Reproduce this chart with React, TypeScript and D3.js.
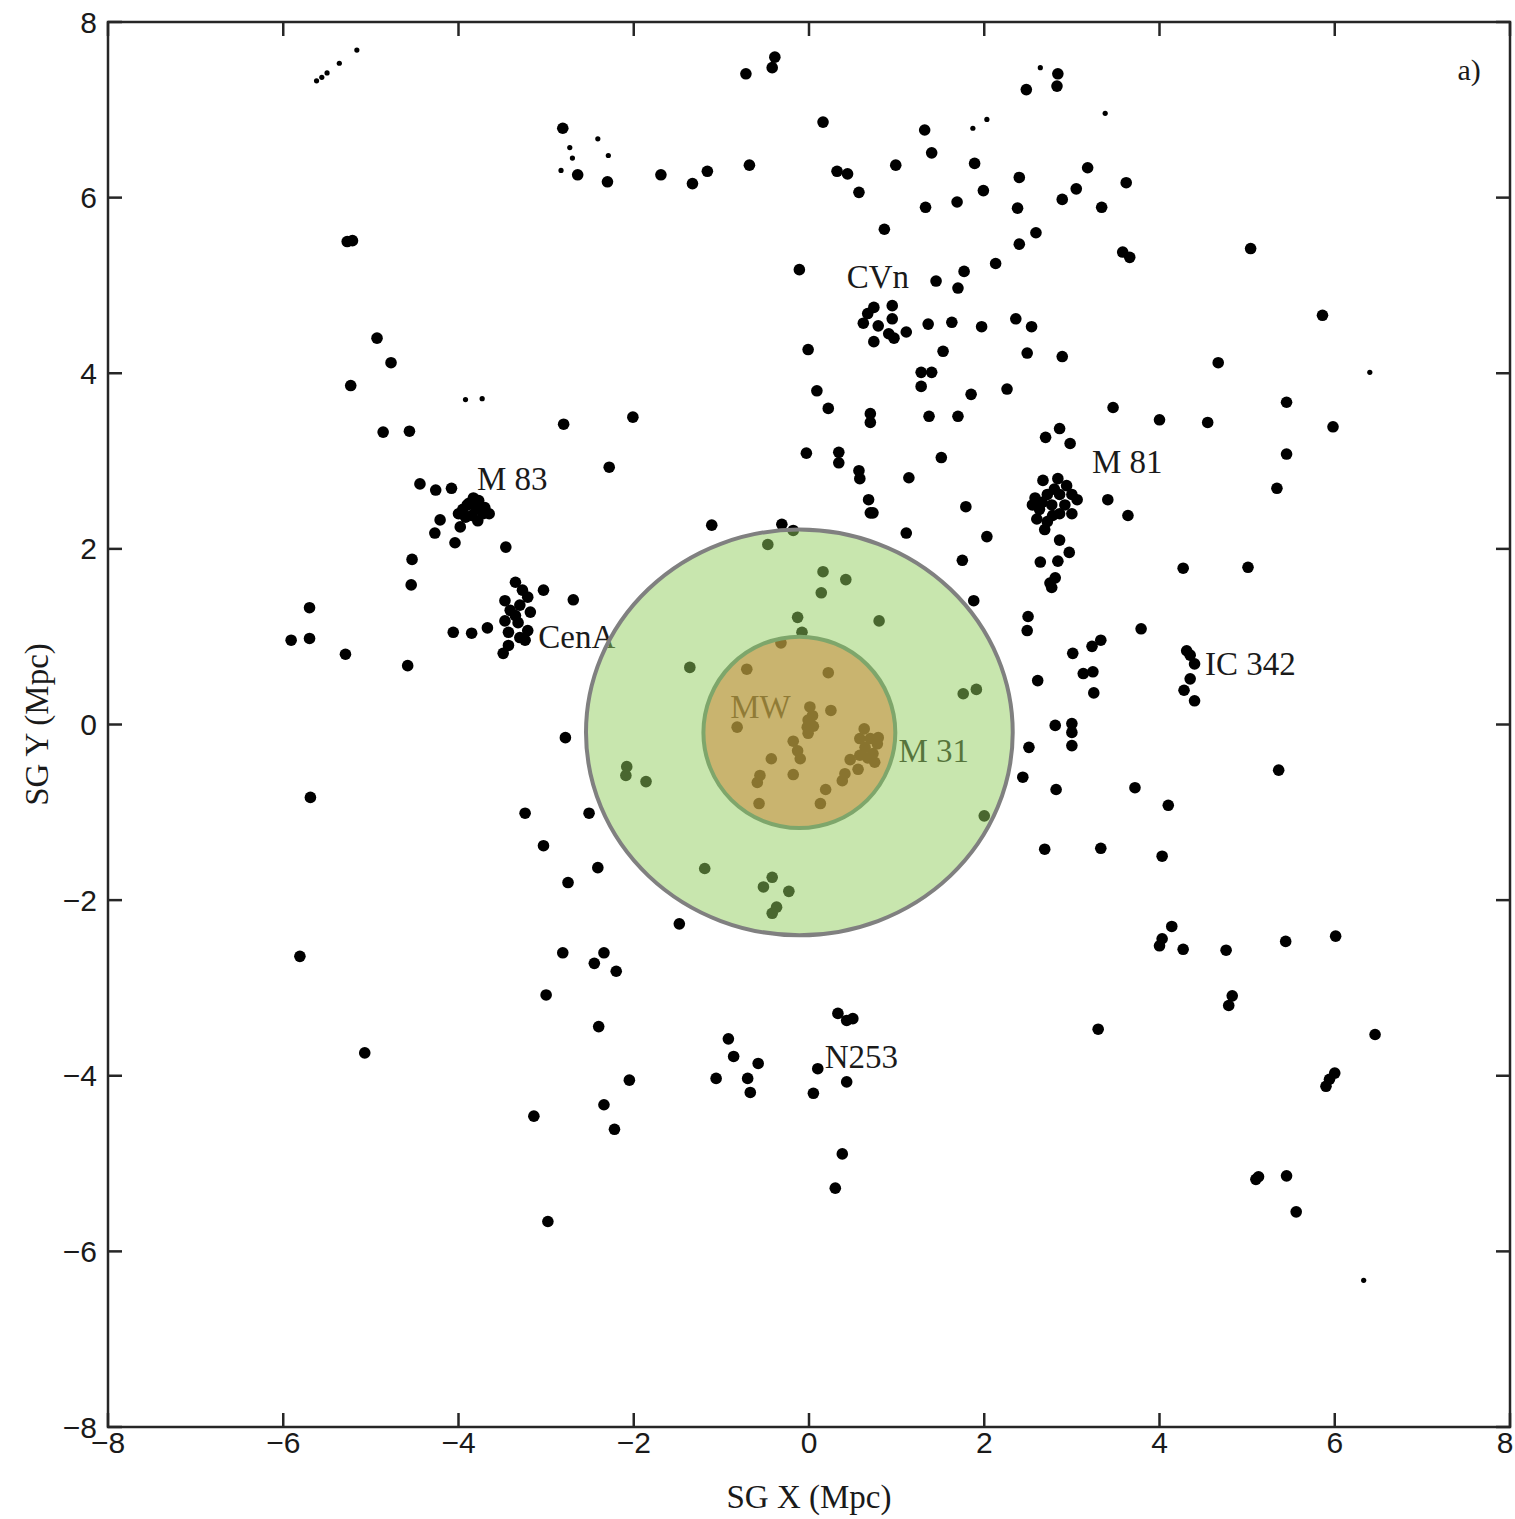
import React from "react";
import * as d3 from "d3";

// Supergalactic X/Y positions (Mpc) of nearby galaxies, large markers
const galaxies: [number, number][] = [
  // far upper-left
  [-5.27, 5.5], [-5.21, 5.51], [-4.93, 4.4], [-4.77, 4.12], [-5.23, 3.86], [-4.86, 3.33], [-4.56, 3.34],
  [-4.44, 2.74], [-4.26, 2.67], [-4.08, 2.69],
  // upper middle
  [-0.39, 7.6], [-0.42, 7.48], [-0.72, 7.41], [-2.81, 6.79], [-2.64, 6.26], [-2.3, 6.18], [-1.69, 6.26],
  [-1.33, 6.16], [-1.16, 6.3], [-0.68, 6.37], [-0.11, 5.18], [-0.01, 4.27], [0.09, 3.8], [-2.8, 3.42],
  [-2.01, 3.5], [-0.03, 3.09], [-2.28, 2.93],
  // upper right of centre
  [2.84, 7.41], [2.83, 7.27], [2.48, 7.23], [0.16, 6.86], [1.32, 6.77], [1.4, 6.51], [0.99, 6.37],
  [1.89, 6.39], [0.32, 6.3], [0.44, 6.27], [0.57, 6.06], [2.4, 6.23], [3.18, 6.34], [3.62, 6.17],
  [1.33, 5.89], [1.69, 5.95], [1.99, 6.08], [2.38, 5.88], [2.89, 5.98], [3.05, 6.1], [3.34, 5.89],
  [0.86, 5.64], [2.59, 5.6], [2.4, 5.47], [2.13, 5.25], [3.58, 5.38], [3.66, 5.32], [1.45, 5.05],
  [1.77, 5.16], [1.7, 4.97],
  // CVn group
  [0.74, 4.75], [0.95, 4.77], [0.95, 4.62], [0.67, 4.68], [0.62, 4.57], [0.79, 4.54], [0.91, 4.45],
  [0.97, 4.4], [1.11, 4.47], [0.74, 4.36],
  [1.36, 4.56], [1.63, 4.58], [1.97, 4.53], [2.36, 4.62], [2.54, 4.53], [1.53, 4.25], [2.49, 4.23],
  [2.89, 4.19], [1.28, 4.01], [1.4, 4.01], [1.28, 3.85], [1.85, 3.76], [2.26, 3.82], [0.22, 3.6],
  [0.7, 3.54], [0.7, 3.44], [1.37, 3.51], [1.7, 3.51], [3.47, 3.61], [4.0, 3.47], [0.34, 3.1],
  [0.34, 2.98], [0.57, 2.89], [0.58, 2.8], [1.14, 2.81], [1.51, 3.04], [2.7, 3.27], [2.86, 3.37],
  [2.98, 3.2],
  // far upper-right
  [5.04, 5.42], [5.86, 4.66], [4.67, 4.12], [5.45, 3.67], [4.55, 3.44], [5.98, 3.39], [5.45, 3.08],
  [5.34, 2.69],
  // left side
  [-4.21, 2.33], [-4.27, 2.18], [-4.04, 2.07], [-4.53, 1.88], [-4.54, 1.59], [-5.7, 1.33], [-5.91, 0.96],
  [-5.7, 0.98], [-5.29, 0.8], [-4.58, 0.67], [-4.06, 1.05], [-5.69, -0.83], [-5.81, -2.64],
  // M 83 group
  [-3.83, 2.58], [-3.77, 2.55], [-3.9, 2.5], [-3.95, 2.45], [-3.8, 2.45], [-3.72, 2.4], [-3.85, 2.38],
  [-3.92, 2.36], [-3.65, 2.4], [-3.78, 2.32], [-3.98, 2.25], [-4.0, 2.4], [-3.88, 2.52], [-3.7, 2.47],
  [-1.11, 2.27], [-0.31, 2.28], [-0.18, 2.21], [-3.46, 2.02],
  // Cen A group
  [-3.35, 1.62], [-3.27, 1.53], [-3.21, 1.45], [-3.47, 1.41], [-3.3, 1.36], [-3.41, 1.3], [-3.18, 1.28],
  [-3.47, 1.18], [-3.32, 1.16], [-3.21, 1.07], [-3.43, 1.05], [-3.3, 0.99], [-3.43, 0.9], [-3.49, 0.81],
  [-3.24, 0.96], [-3.35, 1.24],
  [-3.03, 1.53], [-2.69, 1.42], [-3.85, 1.04], [-3.67, 1.1],
  // Local Group outskirts
  [-0.47, 2.05], [-0.13, 1.22], [-0.08, 1.05], [-0.32, 0.93], [-1.36, 0.65], [-2.08, -0.48],
  [-2.09, -0.58], [-1.86, -0.65], [-1.19, -1.64], [-0.42, -1.74], [-0.52, -1.85], [-0.23, -1.9],
  [-0.37, -2.08], [-0.42, -2.15],
  [0.16, 1.74], [0.42, 1.65], [0.14, 1.5], [0.8, 1.18], [1.76, 0.35], [1.91, 0.4], [2.0, -1.04],
  // Milky Way and M 31 companions
  [-0.71, 0.63], [-0.82, -0.03], [0.01, 0.2], [-0.01, 0.05], [-0.02, -0.03], [-0.01, -0.1],
  [-0.18, -0.19], [-0.13, -0.3], [-0.1, -0.39], [-0.43, -0.39], [-0.56, -0.58], [-0.59, -0.66],
  [-0.18, -0.57], [-0.57, -0.9],
  [0.22, 0.59], [0.25, 0.16], [0.04, 0.1], [0.05, -0.02],
  [0.63, -0.05], [0.58, -0.16], [0.7, -0.16], [0.78, -0.22], [0.64, -0.26], [0.73, -0.33], [0.58, -0.35],
  [0.75, -0.43], [0.67, -0.38], [0.79, -0.15], [0.47, -0.4], [0.56, -0.51], [0.41, -0.56], [0.38, -0.64],
  [0.19, -0.74], [0.13, -0.9],
  // lower left of centre
  [-2.78, -0.15], [-3.24, -1.01], [-2.51, -1.01], [-3.03, -1.38], [-2.41, -1.63], [-2.75, -1.8],
  [-1.48, -2.27], [-2.81, -2.6], [-2.34, -2.6],
  // right of centre
  [0.68, 2.56], [0.7, 2.41], [0.73, 2.41], [1.79, 2.48], [1.11, 2.18], [2.03, 2.14], [1.75, 1.87],
  [1.88, 1.41],
  // M 81 group
  [2.67, 2.78], [2.84, 2.8], [2.94, 2.72], [2.58, 2.58], [2.72, 2.62], [2.86, 2.62], [3.0, 2.62],
  [2.63, 2.45], [2.77, 2.5], [2.92, 2.5], [3.06, 2.56], [2.6, 2.34], [2.72, 2.31], [2.69, 2.22],
  [2.86, 2.4], [2.8, 2.68], [2.55, 2.5], [3.0, 2.4], [2.66, 2.53], [2.78, 2.38],
  [3.41, 2.56], [3.64, 2.38],
  [2.86, 2.1], [2.97, 1.96], [2.64, 1.85], [2.84, 1.86], [2.75, 1.61], [2.81, 1.67], [2.77, 1.56],
  [2.5, 1.23], [2.49, 1.07], [3.79, 1.09], [3.01, 0.81], [3.23, 0.89], [3.33, 0.96], [3.13, 0.58],
  [3.24, 0.6], [3.25, 0.36], [2.61, 0.5], [2.81, -0.01], [3.0, 0.01], [3.0, -0.09], [3.0, -0.24],
  [2.51, -0.26], [2.44, -0.6], [2.82, -0.74], [3.72, -0.72], [2.69, -1.42], [3.33, -1.41],
  // IC 342 group and right side
  [4.27, 1.78], [5.01, 1.79],
  [4.31, 0.84], [4.35, 0.79], [4.4, 0.69], [4.35, 0.52], [4.28, 0.39], [4.4, 0.27],
  [5.36, -0.52], [4.1, -0.92], [4.03, -1.5], [4.14, -2.3], [4.03, -2.44], [4.0, -2.52], [4.27, -2.56],
  [4.76, -2.57], [5.44, -2.47], [6.01, -2.41],
  // lower half
  [-5.07, -3.74],
  [-2.45, -2.72], [-2.2, -2.81], [-3.0, -3.08], [-2.4, -3.44], [-2.05, -4.05], [-3.14, -4.46],
  [-2.34, -4.33], [-2.22, -4.61], [-2.98, -5.66], [-0.92, -3.58], [-0.86, -3.78], [-0.58, -3.86],
  [-1.06, -4.03], [-0.7, -4.03], [-0.67, -4.19],
  // Sculptor (N253) group
  [0.33, -3.29], [0.43, -3.37], [0.5, -3.35], [0.1, -3.92], [0.43, -4.07], [0.05, -4.2], [0.38, -4.89],
  [0.3, -5.28], [3.3, -3.47],
  [4.83, -3.09], [4.79, -3.2], [6.46, -3.53], [6.0, -3.97], [5.94, -4.04], [5.9, -4.12], [5.13, -5.15],
  [5.1, -5.18], [5.45, -5.14], [5.56, -5.55],
];

// Faint galaxies, small markers
const faintGalaxies: [number, number][] = [
  [-5.62, 7.33], [-5.56, 7.37], [-5.5, 7.42], [-5.36, 7.53], [-5.16, 7.68],
  [-2.41, 6.67], [-2.73, 6.57], [-2.7, 6.45], [-2.29, 6.48], [-2.83, 6.31],
  [-3.92, 3.7], [-3.73, 3.71],
  [2.64, 7.48], [1.87, 6.79], [2.03, 6.89], [3.38, 6.96], [6.4, 4.01], [6.33, -6.33],
];

// Group names and where they are written (data coordinates of the text baseline start)
const groupNames = ["M 83", "CenA", "CVn", "M 81", "IC 342", "MW", "M 31", "N253"];
const groupNameX = [-3.79, -3.09, 0.43, 3.23, 4.52, -0.9, 1.02, 0.18];
const groupNameY = [2.67, 0.87, 4.97, 2.86, 0.56, 0.07, -0.43, -3.91];

// Zones around the Local Group centre (SG X, SG Y, radius X, radius Y)
const zoneCentre = [-0.11, -0.09];
const outerZoneRadius = [2.435, 2.31];
const innerZoneRadius = [1.095, 1.09];

const tickValues = d3.range(-8, 9, 2);

const W = 1515;
const H = 1519;
const M = { left: 108, right: 1510, top: 22, bottom: 1427 };

export default function App() {
  const x = d3.scaleLinear().domain([-8, 8]).range([M.left, M.right]);
  const y = d3.scaleLinear().domain([-8, 8]).range([M.bottom, M.top]);
  const fmt = d3.format("d");
  const tickLen = 14;
  const axisColor = "#262626";
  const serif = "'Liberation Serif', 'DejaVu Serif', serif";
  const sans = "'Liberation Sans', Arial, sans-serif";

  const rxOuter = x(outerZoneRadius[0]) - x(0);
  const ryOuter = y(0) - y(outerZoneRadius[1]);
  const rxInner = x(innerZoneRadius[0]) - x(0);
  const ryInner = y(0) - y(innerZoneRadius[1]);

  // keep the last x tick label inside the drawing
  const xLabelPos = (t: number) => Math.min(x(t), W - 10);

  return (
    <svg
      width={W}
      height={H}
      viewBox={`0 0 ${W} ${H}`}
      style={{ position: "absolute", left: 0, top: 0, background: "#fff" }}
    >
      <rect x={0} y={0} width={W} height={H} fill="#fff" />

      {/* galaxies */}
      <g fill="#000">
        {galaxies.map(([gx, gy], i) => (
          <circle key={`g${i}`} cx={x(gx)} cy={y(gy)} r={5.8} />
        ))}
        {faintGalaxies.map(([gx, gy], i) => (
          <circle key={`f${i}`} cx={x(gx)} cy={y(gy)} r={2.6} />
        ))}
      </g>

      {/* group names */}
      <g fontFamily={serif} fontSize={33} fill="#1a1a1a">
        {groupNames.map((name, i) => (
          <text key={name} x={x(groupNameX[i])} y={y(groupNameY[i])}>
            {name}
          </text>
        ))}
      </g>

      {/* translucent zones over the Local Group */}
      <ellipse
        cx={x(zoneCentre[0])}
        cy={y(zoneCentre[1])}
        rx={rxOuter}
        ry={ryOuter}
        fill="rgb(146,205,93)"
        fillOpacity={0.5}
        stroke="#808080"
        strokeWidth={4}
      />
      <ellipse
        cx={x(zoneCentre[0])}
        cy={y(zoneCentre[1])}
        rx={rxInner}
        ry={ryInner}
        fill="rgb(202,130,47)"
        fillOpacity={0.5}
        stroke="#7ea66b"
        strokeWidth={4}
      />

      {/* frame and ticks */}
      <rect
        x={M.left}
        y={M.top}
        width={M.right - M.left}
        height={M.bottom - M.top}
        fill="none"
        stroke={axisColor}
        strokeWidth={2.5}
      />
      <g stroke={axisColor} strokeWidth={2.5}>
        {tickValues.map((t) => (
          <g key={`t${t}`}>
            <line x1={x(t)} x2={x(t)} y1={M.bottom} y2={M.bottom - tickLen} />
            <line x1={x(t)} x2={x(t)} y1={M.top} y2={M.top + tickLen} />
            <line x1={M.left} x2={M.left + tickLen} y1={y(t)} y2={y(t)} />
            <line x1={M.right} x2={M.right - tickLen} y1={y(t)} y2={y(t)} />
          </g>
        ))}
      </g>

      {/* tick labels */}
      <g fontFamily={sans} fontSize={30} fill="#1a1a1a">
        {tickValues.map((t) => (
          <text key={`xl${t}`} x={xLabelPos(t)} y={M.bottom + 26} textAnchor="middle">
            {fmt(t)}
          </text>
        ))}
        {tickValues.map((t) => (
          <text key={`yl${t}`} x={M.left - 11} y={y(t)} textAnchor="end" dominantBaseline="central">
            {fmt(t)}
          </text>
        ))}
      </g>

      {/* panel tag */}
      <text x={x(7.4)} y={y(7.34)} fontFamily={serif} fontSize={30} fill="#1a1a1a">
        a)
      </text>

      {/* axis titles */}
      <text
        x={x(0)}
        y={1508}
        textAnchor="middle"
        fontFamily={serif}
        fontSize={33}
        fill="#1a1a1a"
      >
        SG X (Mpc)
      </text>
      <text
        transform={`translate(48, ${y(0)}) rotate(-90)`}
        textAnchor="middle"
        fontFamily={serif}
        fontSize={33}
        fill="#1a1a1a"
      >
        SG Y (Mpc)
      </text>
    </svg>
  );
}
